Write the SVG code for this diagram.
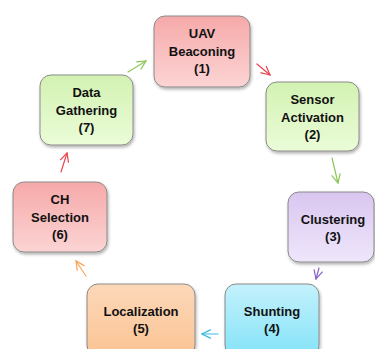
<svg xmlns="http://www.w3.org/2000/svg" width="375" height="349" viewBox="0 0 375 349">
<style>
.box{stroke:#8a8a8a;stroke-width:1;filter:url(#sh)}
.t{font-family:"Liberation Sans",Arial,sans-serif;font-weight:bold;font-size:13px;fill:#111;text-anchor:middle}
.c{fill:none;stroke-width:1.2;stroke-linecap:round}
</style>
<defs>
<filter id="sh" x="-20%" y="-20%" width="140%" height="140%">
<feDropShadow dx="1" dy="2" stdDeviation="1.5" flood-color="#000" flood-opacity="0.3"/>
</filter>
<linearGradient id="gR" x1="0" y1="0" x2="0" y2="1"><stop offset="0" stop-color="#f6a9a9"/><stop offset="1" stop-color="#fcd4d4"/></linearGradient>
<linearGradient id="gG" x1="0" y1="0" x2="0" y2="1"><stop offset="0" stop-color="#d2f2b2"/><stop offset="1" stop-color="#ebfcd8"/></linearGradient>
<linearGradient id="gP" x1="0" y1="0" x2="0" y2="1"><stop offset="0" stop-color="#d9c6f0"/><stop offset="1" stop-color="#efe6fb"/></linearGradient>
<linearGradient id="gC" x1="0" y1="0" x2="0" y2="1"><stop offset="0" stop-color="#c4f1fc"/><stop offset="1" stop-color="#84e3f8"/></linearGradient>
<linearGradient id="gO" x1="0" y1="0" x2="0" y2="1"><stop offset="0" stop-color="#fcd8b8"/><stop offset="1" stop-color="#fbc494"/></linearGradient>
<marker id="mG" viewBox="0 0 10 10" refX="9" refY="5" markerWidth="11" markerHeight="11" markerUnits="userSpaceOnUse" orient="auto"><path d="M1,1 L9,5 L1,9" fill="none" stroke="#8cc65a" stroke-width="1.1"/></marker>
<marker id="mR" viewBox="0 0 10 10" refX="9" refY="5" markerWidth="11" markerHeight="11" markerUnits="userSpaceOnUse" orient="auto"><path d="M1,1 L9,5 L1,9" fill="none" stroke="#e8474f" stroke-width="1.1"/></marker>
<marker id="mP" viewBox="0 0 10 10" refX="9" refY="5" markerWidth="11" markerHeight="11" markerUnits="userSpaceOnUse" orient="auto"><path d="M1,1 L9,5 L1,9" fill="none" stroke="#8a62c6" stroke-width="1.1"/></marker>
<marker id="mC" viewBox="0 0 10 10" refX="9" refY="5" markerWidth="11" markerHeight="11" markerUnits="userSpaceOnUse" orient="auto"><path d="M1,1 L9,5 L1,9" fill="none" stroke="#3cb8de" stroke-width="1.1"/></marker>
<marker id="mO" viewBox="0 0 10 10" refX="9" refY="5" markerWidth="11" markerHeight="11" markerUnits="userSpaceOnUse" orient="auto"><path d="M1,1 L9,5 L1,9" fill="none" stroke="#f9a45c" stroke-width="1.1"/></marker>
</defs>
<rect width="375" height="349" fill="#fff"/>
<g id="connectors">
<line class="c" x1="128" y1="72" x2="146" y2="61" stroke="#8cc65a" marker-end="url(#mG)"/>
<line class="c" x1="257" y1="64" x2="270" y2="75" stroke="#e8474f" marker-end="url(#mR)"/>
<line class="c" x1="332" y1="158" x2="338" y2="183" stroke="#8cc65a" marker-end="url(#mG)"/>
<line class="c" x1="319" y1="268" x2="316" y2="279" stroke="#8a62c6" marker-end="url(#mP)"/>
<line class="c" x1="218" y1="334" x2="202" y2="334" stroke="#3cb8de" marker-end="url(#mC)"/>
<line class="c" x1="86" y1="276" x2="76" y2="261" stroke="#f9a45c" marker-end="url(#mO)"/>
<line class="c" x1="61" y1="172" x2="67" y2="153" stroke="#e8474f" marker-end="url(#mR)"/>
</g>
<g id="n1"><rect class="box" x="154" y="16" width="96" height="71" rx="11" fill="url(#gR)"/>
<text class="t" x="202" y="38">UAV</text><text class="t" x="202" y="56">Beaconing</text><text class="t" x="202" y="73">(1)</text></g>
<g id="n2"><rect class="box" x="266" y="82" width="93" height="69" rx="11" fill="url(#gG)"/>
<text class="t" x="312.5" y="104">Sensor</text><text class="t" x="312.5" y="122">Activation</text><text class="t" x="312.5" y="139">(2)</text></g>
<g id="n3"><rect class="box" x="288" y="192" width="86" height="70" rx="11" fill="url(#gP)"/>
<text class="t" x="333" y="224">Clustering</text><text class="t" x="333" y="241">(3)</text></g>
<g id="n4"><rect class="box" x="225" y="284" width="94" height="72" rx="11" fill="url(#gC)"/>
<text class="t" x="272" y="316">Shunting</text><text class="t" x="272" y="333">(4)</text></g>
<g id="n5"><rect class="box" x="87" y="284" width="108" height="72" rx="11" fill="url(#gO)"/>
<text class="t" x="141" y="316">Localization</text><text class="t" x="141" y="333">(5)</text></g>
<g id="n6"><rect class="box" x="13" y="182" width="94" height="70" rx="11" fill="url(#gR)"/>
<text class="t" x="60" y="204">CH</text><text class="t" x="60" y="222">Selection</text><text class="t" x="60" y="239">(6)</text></g>
<g id="n7"><rect class="box" x="40" y="75" width="93" height="70" rx="11" fill="url(#gG)"/>
<text class="t" x="86.5" y="97">Data</text><text class="t" x="86.5" y="115">Gathering</text><text class="t" x="86.5" y="132">(7)</text></g>
</svg>
